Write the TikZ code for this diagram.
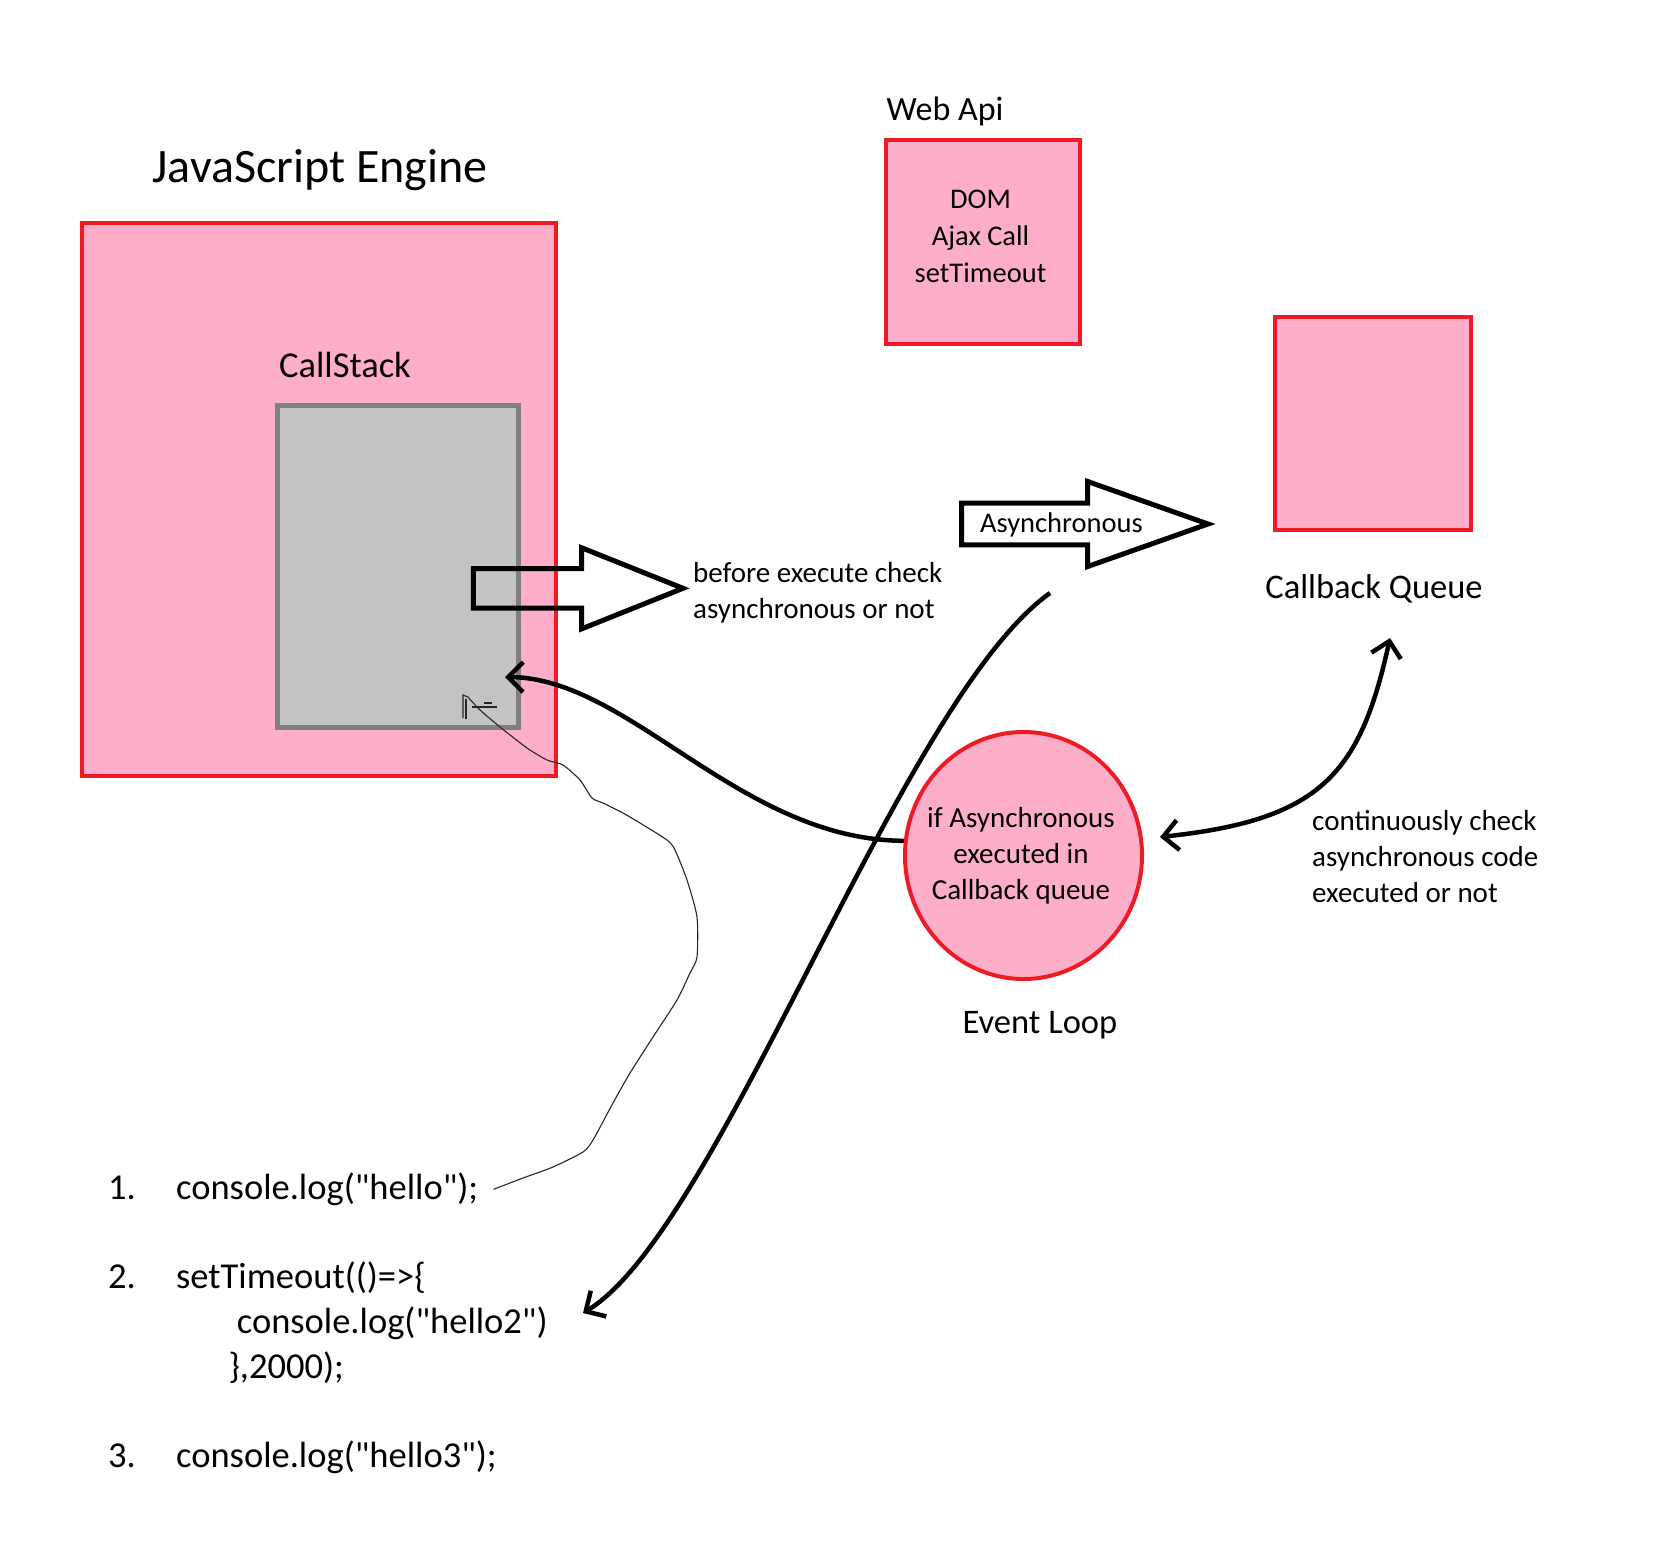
\documentclass[tikz,border=0pt]{standalone}
\usepackage{fontspec}
\setmainfont{Carlito}
\usetikzlibrary{arrows.meta,shapes.geometric}
\definecolor{cPink}{HTML}{FFAEC9}
\definecolor{cRed}{HTML}{ED1C24}
\definecolor{cStack}{HTML}{C3C3C3}
\definecolor{cStackLn}{HTML}{7F7F7F}
\newcommand{\fs}[2]{\fontsize{#1}{#2}\selectfont}
\newcommand{\dq}{\textquotedbl}
\tikzset{
  Ebox/.style={draw=cRed, fill=cPink, line width=4pt, inner sep=0pt},
  Sbox/.style={draw=cStackLn, fill=cStack, line width=5pt, inner sep=0pt},
  blk/.style={draw=black, line width=5pt, line join=miter},
  barb/.tip={Straight Barb[length=15pt,width=30pt]},
  flowA/.style={line width=4.5pt, -barb},
  flowAB/.style={line width=4.5pt, barb-barb},
  thinL/.style={line width=1.1pt, black!85},
  lbl/.style={inner sep=0pt, align=center},
  note/.style={inner sep=0pt, align=left, anchor=west, font=\fs{29}{36}},
  code/.style={inner sep=0pt, anchor=base west, font=\fs{36.5}{44}},
}
\newcommand{\blockArr}[6]{\draw[blk] (#1,{#4-#5}) -- (#2,{#4-#5}) -- (#2,{#4-#6}) -- (#3,#4) -- (#2,{#4+#6}) -- (#2,{#4+#5}) -- (#1,{#4+#5}) -- cycle;}

\begin{document}
\begin{tikzpicture}[x=1pt, y=-1pt]
\useasboundingbox (0,0) rectangle (1672,1550);
% engine and call stack
\node[Ebox, minimum width=474pt, minimum height=553pt] (engine) at (318.5,499.5) {};
\node[lbl, font=\fs{48}{56}] (engineLbl) at (320,170) {JavaScript Engine};
\node[Sbox, minimum width=241pt, minimum height=322pt] (stack) at (397.5,566.7) {};
\node[lbl, font=\fs{36.5}{44}] (stackLbl) at (345,365) {CallStack};
\blockArr{473.3}{581.7}{683}{588.3}{19.7}{40.5}
\node[note] (checkTxt) at (693,593) {before execute check\\asynchronous or not};
% web api
\node[lbl, font=\fs{34}{40}] (webLbl) at (945,111) {Web Api};
\node[Ebox, minimum width=194pt, minimum height=204pt] (web) at (982.5,242) {};
\node[lbl, font=\fs{28.5}{37}] (webTxt) at ([yshift=6pt, xshift=-2pt]web.center) {DOM\\Ajax Call\\setTimeout};
% callback queue
\node[Ebox, minimum width=196pt, minimum height=213pt] (cbq) at (1373.4,423.3) {};
\node[lbl, font=\fs{34.5}{40}] (cbqLbl) at (1374,589) {Callback Queue};
\blockArr{961.7}{1087.7}{1208}{524}{20.8}{42.5}
\node[lbl, font=\fs{28.5}{32}] (asyncLbl) at (1061.5,525) {Asynchronous};
% event loop
\node[Ebox, ellipse, minimum width=237pt, minimum height=247pt] (loop) at (1023.5,855.5) {};
\node[lbl, font=\fs{29}{36}] (loopTxt) at (1021,856) {if Asynchronous\\executed in\\Callback queue};
\node[lbl, font=\fs{34.5}{40}] (loopLbl) at (1040,1025) {Event Loop};
\node[note] (contTxt) at (1312,857) {continuously check\\asynchronous code\\executed or not};
% code
\node[code] (num1) at (108,1199.5) {1.};
\node[code] (code1) at (176,1199.5) {console.log(\dq hello\dq);};
\node[code] (num2) at (108,1288.5) {2.};
\node[code] (code2a) at (176,1288.5) {setTimeout(()=>\{};
\node[code] (code2b) at (236.7,1333.5) {console.log(\dq hello2\dq)};
\node[code] (code2c) at (228.3,1378.5) {\},2000);};
\node[code] (num3) at (108,1467) {3.};
\node[code] (code3) at (176,1467) {console.log(\dq hello3\dq);};
% connectors
\coordinate (stackIn) at (505,677);
\coordinate (loopR) at (1160,837);
\coordinate (cbqIn) at (1390,638);
\coordinate (asyncOut) at (1050,593);
\coordinate (code2In) at (583,1313);
\draw[flowA] (loop.173) .. controls (740,840) and (630,678) .. (stackIn);
\draw[flowAB] (loopR) .. controls (1320,820) and (1360,775) .. (cbqIn);
\draw[flowA] (asyncOut) .. controls (900,700) and (720,1230) .. (code2In);
\draw[thinL] plot[smooth, tension=0.4] coordinates {([xshift=15pt]code1.east) (523,1178) (553,1167) (583,1152) (593,1140) (613,1103) (630,1073) (653,1037) (677,1000) (690,973) (697,957) (697,917) (687,880) (675,850) (667,840) (640,823) (623,813) (603,803) (592,798) (580,780) (563,765) (547,760) (527,748) (500,727) (480,710) (468,697)};
\draw[thinL] (468,697) -- (463,695) -- (463,718);
\draw[thinL] (466,699) -- (466,719);
\draw[thinL] (472,707) -- (497,707);
\draw[thinL] (484,703) -- (492,703);
\end{tikzpicture}
\end{document}
